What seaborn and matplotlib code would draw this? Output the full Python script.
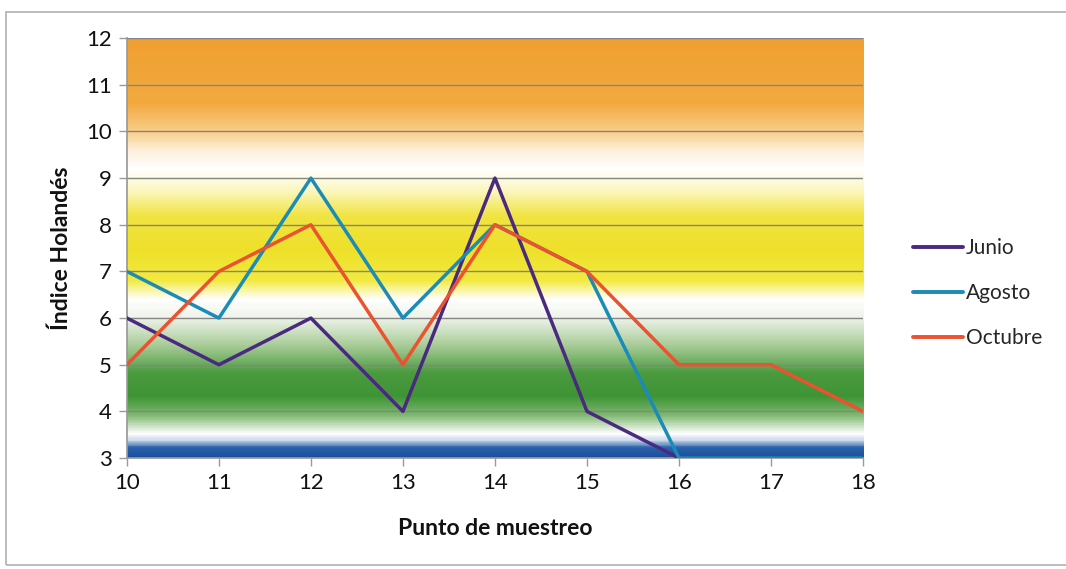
import numpy as np
import pandas as pd
import matplotlib
matplotlib.use("Agg")
import matplotlib.pyplot as plt
from matplotlib.colors import LinearSegmentedColormap, to_rgb
from matplotlib.patches import Rectangle
import seaborn as sns

# Sampling points and Dutch index per campaign
puntos = [10, 11, 12, 13, 14, 15, 16, 17, 18]
junio = [6, 5, 6, 4, 9, 4, 3, np.nan, np.nan]
agosto = [7, 6, 9, 6, 8, 7, 3, 3, 3]
octubre = [5, 7, 8, 5, 8, 7, 5, 5, 4]
series_names = ["Junio", "Agosto", "Octubre"]
series_colors = ["#4a2a7e", "#1b8bb8", "#ea5230"]

df = pd.DataFrame({
    "Punto": puntos * 3,
    "Indice": junio + agosto + octubre,
    "Serie": sum([[n] * len(puntos) for n in series_names], []),
})

sns.set_theme(style="white")
plt.rcParams["font.family"] = ["Lato", "DejaVu Sans"]

fig = plt.figure(figsize=(10.66, 5.69), dpi=100)
ax = fig.add_axes([0.119, 0.195, 0.6906, 0.738])

# Quality bands as a vertical colour gradient (index value -> colour)
stops = [
    (3.0, "#1d4f9c"), (3.2, "#2a62ad"), (3.35, "#c9d6ea"), (3.5, "#ffffff"),
    (3.9, "#7fb870"), (4.3, "#3f9436"), (4.8, "#4a9a3e"), (5.4, "#a8cc98"),
    (6.0, "#eef3ea"), (6.4, "#ffffff"), (6.8, "#f3ea40"), (7.5, "#eee02a"),
    (8.2, "#f1e443"), (8.7, "#fbf6b8"), (9.2, "#ffffff"), (9.6, "#fdf0dc"),
    (10.0, "#f8cf8a"), (10.6, "#f2aa40"), (12.0, "#f0a030"),
]
lo, hi = 3.0, 12.0
cmap = LinearSegmentedColormap.from_list(
    "bands", [((v - lo) / (hi - lo), to_rgb(c)) for v, c in stops]
)
grad = np.linspace(0, 1, 600).reshape(-1, 1)
ax.imshow(grad, cmap=cmap, aspect="auto", origin="lower",
          extent=[10, 18, lo, hi], zorder=0)

sns.lineplot(data=df, x="Punto", y="Indice", hue="Serie",
             palette=series_colors, linewidth=2.5, ax=ax, zorder=3,
             sort=False)

ax.set_xlim(10, 18)
ax.set_ylim(3, 12)
ax.set_xticks(range(10, 19))
ax.set_yticks(range(3, 13))
ax.yaxis.grid(True, color="#858585", linewidth=1.0, zorder=1)
ax.set_axisbelow(False)
for line in ax.get_ygridlines():
    line.set_zorder(1)
for s in ["top", "right"]:
    ax.spines[s].set_visible(False)
ax.spines["left"].set_color("#9a9a9a")
ax.spines["bottom"].set_color("#9a9a9a")
ax.tick_params(axis="both", which="both", direction="out", length=6,
               width=1, color="#9a9a9a", labelsize=16, labelcolor="#111111",
               bottom=True, left=True, pad=5)

ax.set_xlabel("Punto de muestreo", fontsize=16.5, fontweight="bold",
              color="#111111", labelpad=18)
ax.set_ylabel("Índice Holandés", fontsize=16.5, fontweight="bold",
              color="#111111", labelpad=10)

leg = ax.legend(loc="center left", bbox_to_anchor=(1.057, 0.392), frameon=False,
                fontsize=15, handlelength=2.4, handletextpad=0.12,
                labelspacing=1.2, borderaxespad=0.0)
for h in leg.get_lines():
    h.set_linewidth(2.8)

# Chart frame
fig.patches.append(Rectangle((0.006, 0.007), 1.2, 0.972, transform=fig.transFigure,
                             fill=False, edgecolor="#b0b0b0", linewidth=1.2))

fig.savefig("out.png", dpi=100, facecolor="white")
